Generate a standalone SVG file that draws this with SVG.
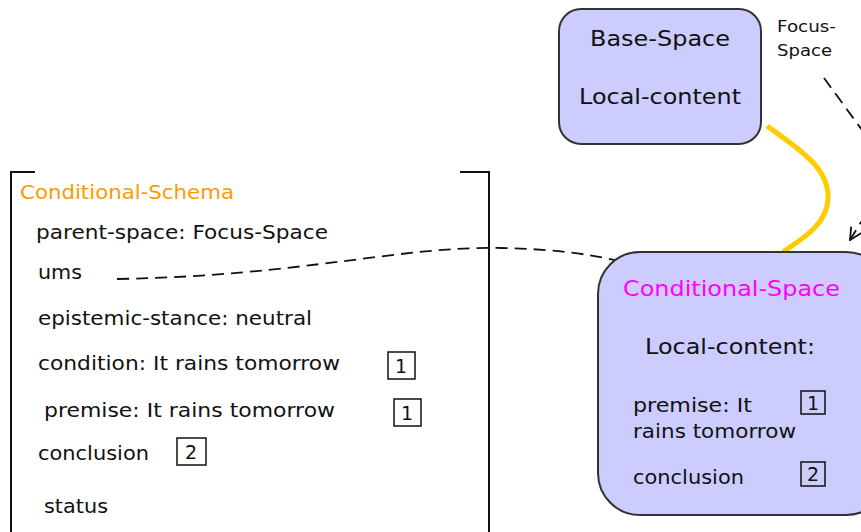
<svg xmlns="http://www.w3.org/2000/svg" width="861" height="532" viewBox="0 0 861 532">
<defs>
<style>
text{font-family:"DejaVu Sans",Verdana,sans-serif;fill:#111}
.box{fill:#ccccff;stroke:#333;stroke-width:2}
.tag{fill:none;stroke:#111;stroke-width:1.5}
.num{font-size:19px}
.br{fill:none;stroke:#111;stroke-width:2}
.dash{fill:none;stroke:#111;stroke-width:1.8;stroke-dasharray:12 7}
</style>
<marker id="arr" viewBox="0 0 14 14" refX="13" refY="7" markerWidth="14" markerHeight="14" markerUnits="userSpaceOnUse" orient="auto">
<path d="M1,1 L13,7 L1,13" fill="none" stroke="#111" stroke-width="1.8"/>
</marker>
</defs>
<g id="connectors">
<path d="M767,126 C800,150 830,168 828,200 C826,226 800,240 783,252" fill="none" stroke="#ffcc00" stroke-width="5"/>
<path class="dash" d="M117,279 C300,276 400,246 500,248 C560,249 600,256 622,262"/>
<path class="dash" d="M824,78 L862,130"/>
<path fill="none" stroke="#111" stroke-width="1.8" stroke-dasharray="12 7" d="M866,214 L850,240" marker-end="url(#arr)"/>
</g>
<g id="base-space">
<rect class="box" x="559" y="9" width="202" height="135" rx="22"/>
<text x="590" y="46" font-size="22" textLength="140" lengthAdjust="spacingAndGlyphs">Base-Space</text>
<text x="579" y="104" font-size="22" textLength="162" lengthAdjust="spacingAndGlyphs">Local-content</text>
</g>
<g id="focus-space-label">
<text x="777" y="32" font-size="15" textLength="59" lengthAdjust="spacingAndGlyphs">Focus-</text>
<text x="777" y="56" font-size="15" textLength="55" lengthAdjust="spacingAndGlyphs">Space</text>
</g>
<g id="conditional-space">
<rect class="box" x="598" y="252" width="290" height="263" rx="42"/>
<text x="623" y="296" font-size="22" textLength="217" lengthAdjust="spacingAndGlyphs" style="fill:#ff00ff">Conditional-Space</text>
<text x="645" y="354" font-size="21" textLength="170" lengthAdjust="spacingAndGlyphs">Local-content:</text>
<text x="633" y="412" font-size="19" textLength="119" lengthAdjust="spacingAndGlyphs">premise: It</text>
<text x="633" y="438" font-size="19" textLength="163" lengthAdjust="spacingAndGlyphs">rains tomorrow</text>
<rect class="tag" x="801" y="391" width="24" height="23"/>
<text class="num" x="813" y="410" text-anchor="middle">1</text>
<text x="633" y="484" font-size="19" textLength="111" lengthAdjust="spacingAndGlyphs">conclusion</text>
<rect class="tag" x="801" y="462" width="24" height="24"/>
<text class="num" x="813" y="481" text-anchor="middle">2</text>
</g>
<g id="conditional-schema">
<path class="br" d="M35,172 H11 V532"/>
<path class="br" d="M460,172 H489 V532"/>
<text x="20" y="199" font-size="20" textLength="214" lengthAdjust="spacingAndGlyphs" style="fill:#ff9900">Conditional-Schema</text>
<text x="36" y="239" font-size="19" textLength="292" lengthAdjust="spacingAndGlyphs">parent-space: Focus-Space</text>
<text x="38" y="279" font-size="19" textLength="44" lengthAdjust="spacingAndGlyphs">ums</text>
<text x="38" y="325" font-size="19" textLength="274" lengthAdjust="spacingAndGlyphs">epistemic-stance: neutral</text>
<text x="38" y="370" font-size="19" textLength="302" lengthAdjust="spacingAndGlyphs">condition: It rains tomorrow</text>
<rect class="tag" x="388" y="352" width="27" height="27"/>
<text class="num" x="401" y="373" text-anchor="middle">1</text>
<text x="44" y="417" font-size="19" textLength="291" lengthAdjust="spacingAndGlyphs">premise: It rains tomorrow</text>
<rect class="tag" x="394" y="399" width="27" height="27"/>
<text class="num" x="407" y="420" text-anchor="middle">1</text>
<text x="38" y="460" font-size="19" textLength="111" lengthAdjust="spacingAndGlyphs">conclusion</text>
<rect class="tag" x="177" y="438" width="29" height="27"/>
<text class="num" x="191" y="459" text-anchor="middle">2</text>
<text x="44" y="513" font-size="19" textLength="64" lengthAdjust="spacingAndGlyphs">status</text>
</g>
</svg>
